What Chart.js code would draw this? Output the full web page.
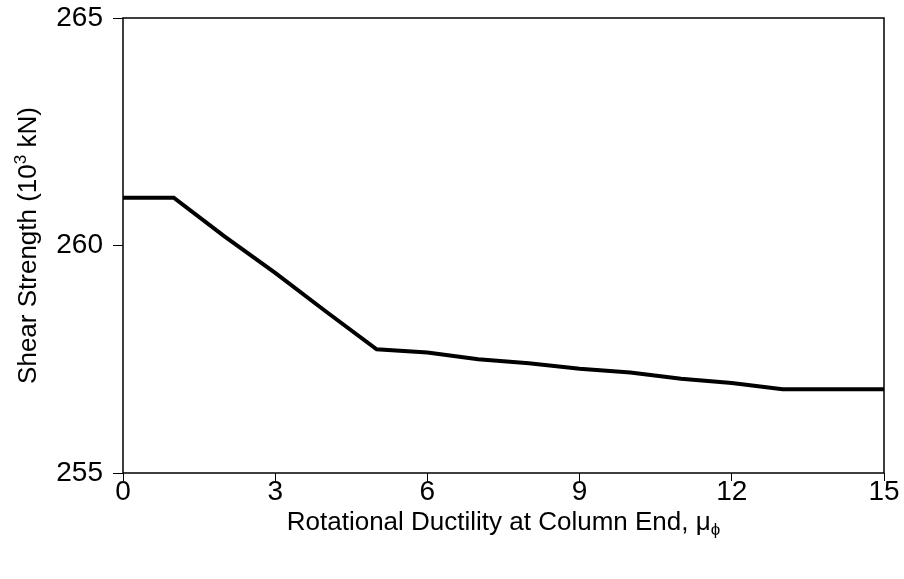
<!DOCTYPE html>
<html>
<head>
<meta charset="utf-8">
<script src="https://cdn.jsdelivr.net/npm/chart.js@4/dist/chart.umd.min.js"></script>
<style>
  html, body { margin: 0; padding: 0; background: #fff; }
  #wrap { width: 904px; height: 579px; }
</style>
</head>
<body>
<div id="wrap"><canvas id="shear" width="904" height="579"></canvas></div>
<script>
    "use strict";

    // rotational ductility at the column end
    const ductility = [0, 1, 2, 3, 4, 5, 6, 7, 8, 9, 10, 11, 12, 13, 14, 15];
    // shear strength, 10^3 kN
    const shearStrength = [261.05, 261.05, 260.2, 259.4, 258.55, 257.72, 257.65, 257.5,
        257.41, 257.29, 257.21, 257.07, 256.98, 256.84, 256.84, 256.84];
    const xTicks = [0, 3, 6, 9, 12, 15];
    const yTicks = [255, 260, 265];

    const FONT = "'Liberation Sans', Arial, sans-serif";

    // draws a run of text pieces (with super/subscripts) centred on x,y
    function drawRich(ctx, parts, x, y) {
        let total = 0;
        parts.forEach(function (p) {
            ctx.font = p.size + "px " + FONT;
            p.w = ctx.measureText(p.text).width;
            total += p.w;
        });
        let cx = x - total / 2;
        parts.forEach(function (p) {
            ctx.font = p.size + "px " + FONT;
            ctx.fillText(p.text, cx, y + (p.dy || 0));
            cx += p.w;
        });
    }

    const framePlugin = {
        id: "frame",
        afterDatasetsDraw(chart) {
            const a = chart.chartArea;
            const ctx = chart.ctx;
            ctx.save();
            ctx.strokeStyle = "#000";
            ctx.lineWidth = 1.5;
            ctx.strokeRect(a.left, a.top, a.right - a.left, a.bottom - a.top);
            ctx.restore();
        },
        afterDraw(chart) {
            const a = chart.chartArea;
            const ctx = chart.ctx;
            ctx.save();
            ctx.fillStyle = "#000";
            ctx.textBaseline = "middle";
            drawRich(ctx, [
                { text: "Rotational Ductility at Column End, ", size: 26 },
                { text: "\u03bc", size: 26 },
                { text: "\u03d5", size: 17, dy: 7 }
            ], (a.left + a.right) / 2, 523);

            ctx.translate(29, (a.top + a.bottom) / 2);
            ctx.rotate(-Math.PI / 2);
            drawRich(ctx, [
                { text: "Shear Strength (10", size: 26 },
                { text: "3", size: 17, dy: -8 },
                { text: " kN)", size: 26 }
            ], 0, 0);
            ctx.restore();
        }
    };

    new Chart(document.getElementById("shear").getContext("2d"), {
        type: "line",
        data: {
            datasets: [{
                data: ductility.map(function (d, i) { return { x: d, y: shearStrength[i] }; }),
                borderColor: "#000",
                borderWidth: 4,
                pointRadius: 0,
                tension: 0,
                fill: false
            }]
        },
        options: {
            responsive: false,
            animation: false,
            layout: { padding: { left: 0, top: 18, right: 20, bottom: 0 } },
            plugins: {
                legend: { display: false },
                tooltip: { enabled: false }
            },
            scales: {
                x: {
                    type: "linear",
                    min: 0,
                    max: 15,
                    afterBuildTicks(scale) {
                        scale.ticks = xTicks.map(function (v) { return { value: v }; });
                    },
                    afterFit(scale) {
                        scale.height = 106;
                        scale.paddingLeft = 0;
                        scale.paddingRight = 0;
                    },
                    border: { display: false },
                    grid: { drawOnChartArea: false, drawTicks: true, tickLength: 8, color: "#000", lineWidth: 1 },
                    ticks: { color: "#000", padding: -3, maxRotation: 0, font: { family: FONT, size: 28, lineHeight: 1 } }
                },
                y: {
                    min: 255,
                    max: 265,
                    afterBuildTicks(scale) {
                        scale.ticks = yTicks.map(function (v) { return { value: v }; });
                    },
                    afterFit(scale) {
                        scale.width = 123;
                        scale.paddingTop = 0;
                        scale.paddingBottom = 0;
                    },
                    border: { display: false },
                    grid: { drawOnChartArea: false, drawTicks: true, tickLength: 10, color: "#000", lineWidth: 1 },
                    ticks: { color: "#000", padding: 10, font: { family: FONT, size: 28, lineHeight: 1 } }
                }
            }
        },
        plugins: [framePlugin]
    });
</script>
</body>
</html>
